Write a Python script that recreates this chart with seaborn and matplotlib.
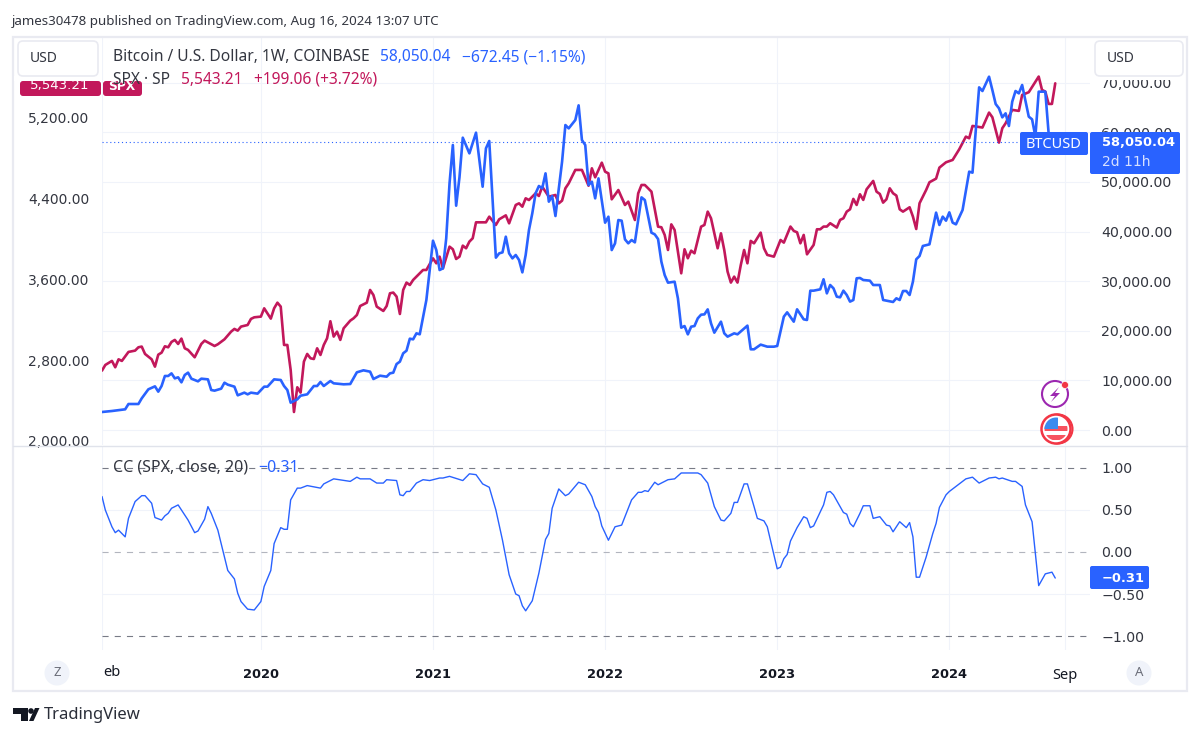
import numpy as np
import pandas as pd
import matplotlib
matplotlib.use('Agg')
import matplotlib.pyplot as plt
from matplotlib.patches import FancyBboxPatch, Rectangle, Circle, Polygon
import seaborn as sns

# weeks are counted from the first bar on the chart (Feb 2019)
btc_weeks = [0, 3, 7, 8, 11, 12, 14, 16, 17, 18, 19, 20, 21, 22, 23, 24, 25, 26, 27, 29, 30, 32, 33, 34, 36, 37, 38, 40, 41, 43, 44, 45, 47, 49, 50, 52, 54, 55, 56, 57, 59, 60, 62, 64, 65, 66, 67, 69, 70, 73, 75, 77, 79, 81, 82, 84, 86, 87, 88, 89, 90, 91, 92, 93, 94, 95, 96,
             98, 100, 101, 102, 103, 104, 105, 106, 107, 108, 109, 111, 113, 115, 116, 117, 119, 120, 121, 122, 123, 124, 125, 126, 127, 128, 129, 130, 131, 132, 133, 134, 135, 136, 137, 139, 140, 141, 143, 144, 145, 146, 147, 148, 149, 150, 152, 153, 154, 155, 156, 157, 158, 159, 160, 161, 163, 164, 166, 167, 168, 169, 170, 171, 173, 174, 175, 176, 177, 178, 179, 180, 181, 182, 183, 184, 185,
             187, 188, 189, 191, 192, 195, 196, 197, 199, 201, 203, 204, 206, 207, 209, 210, 212, 213, 214, 215, 217, 218, 219, 220, 221, 222, 223, 224, 225, 226, 227, 228, 229, 230, 232, 233, 235, 236, 239, 240, 241, 242, 243, 244, 245, 246, 247, 248, 250, 252, 253, 254, 255, 256, 257, 258, 260,
             262, 263, 265, 266, 268, 269, 270, 271, 272, 273, 274, 275, 276, 277, 278, 280, 281, 282, 283, 285, 286, 288]
btc_close = [3630, 3830, 4170, 5240, 5240, 6380, 8200, 8800, 7730, 8870, 10890, 10890, 11420, 10410, 10620, 9610, 11090, 11560, 10350, 9810, 10350, 10210, 8060, 7930, 8330, 9540, 9140, 8740, 6990, 7530, 7190, 7530, 7330, 8740, 8740, 10210, 10080, 8870, 8060, 5510, 6180, 6920, 7190, 8870, 8870, 9680, 8870, 9880, 9410, 9210, 9270, 11630, 12030, 11760, 10280, 10950, 10750, 11420, 11560, 13300, 13780, 15460, 15990, 18410, 18280, 19490, 19290,
             26210, 38160, 36280, 32250, 32590, 38640, 49720, 57450, 45220, 50930, 58930, 55770, 59940, 49050, 56780, 58260, 34740, 35610, 35810, 38970, 35610, 34600, 35280, 34270, 31780, 35280, 40320, 43680, 47710, 49190, 48720, 51740, 46030, 47170, 43140, 54090, 61480, 60810, 62490, 65450, 58460, 57450, 49390, 50060, 46700, 50730, 41790, 43000, 36280, 37630, 42330, 42200, 38430, 37630, 38300, 37830, 46900, 46360, 39780, 39440, 38500, 33930, 31240, 29700, 29900, 26540, 20630, 20960, 19280, 20830, 20960, 22510, 23250, 23310, 24320, 21500, 19620,
             21840, 19490, 18820, 19490, 19290, 21040, 16270, 16270, 17210, 16800, 16800, 16940, 22850, 23720, 21840, 24330, 22310, 22180, 28090, 28090, 28360, 30380, 27550, 29230, 28560, 26880, 26750, 28090, 27220, 25880, 26210, 30580, 30650, 30240, 30110, 29230, 29230, 26210, 25810, 26550, 26210, 28020, 28020, 27220, 29910, 34410, 35080, 37100, 37430, 43820, 41330, 43010, 42200, 43880, 41800, 41460, 44350,
             52080, 51880, 69080, 68340, 71230, 68540, 65720, 64850, 63030, 63840, 61290, 66190, 68340, 67870, 69550, 63170, 62630, 59140, 68210, 68210, 59810, 58050]

spx_weeks = [0, 1, 3, 4, 5, 6, 8, 10, 11, 12, 13, 15, 16, 17, 18, 19, 20, 21, 22, 23, 24, 25, 26, 28, 30, 31, 34, 35, 37, 39, 40, 41, 42, 44, 45, 46, 48, 49, 51, 52, 53, 54, 55, 56, 57, 58, 59, 60, 61, 62, 63, 64, 65, 66, 67, 68, 69, 70, 71, 72, 73, 75, 76, 77, 78, 80, 81, 82, 83, 85, 86, 87, 88, 89, 90, 91, 92, 93, 94,
             96, 97, 98, 100, 101, 102, 103, 105, 106, 107, 108, 109, 110, 111, 112, 113, 116, 117, 119, 120, 122, 123, 125, 126, 127, 128, 129, 131, 132, 133, 135, 137, 138, 139, 140, 141, 143, 145, 147, 148, 149, 151, 152, 153, 154, 156, 158, 159, 161, 162, 163, 164, 166, 168, 169, 170, 171, 172, 173, 175, 176, 177, 178, 179, 181, 182, 183, 184, 186, 187,
             188, 189, 190, 191, 192, 193, 194, 195, 196, 197, 199, 200, 201, 203, 205, 206, 208, 209, 210, 211, 212, 213, 215, 216, 217, 218, 219, 220, 222, 223, 224, 225, 226, 227, 228, 229, 230, 231, 233, 234, 235, 236, 237, 238, 239, 240, 241, 242, 244, 245, 246, 247, 249, 250, 252, 253, 255,
             257, 259, 261, 262, 263, 266, 268, 269, 271, 272, 273, 275, 277, 278, 280, 283, 284, 285, 286, 287, 288]
spx_close = [2697, 2753, 2793, 2730, 2809, 2793, 2882, 2895, 2928, 2935, 2862, 2809, 2736, 2855, 2875, 2938, 2928, 2981, 3001, 2961, 3014, 2918, 2902, 2829, 2961, 2994, 2941, 2958, 3007, 3083, 3110, 3093, 3133, 3149, 3209, 3225, 3232, 3314, 3212, 3314, 3370, 3331, 2951, 2951, 2703, 2287, 2532, 2479, 2786, 2862, 2819, 2812, 2918, 2852, 2951, 3017, 3186, 3034, 3083, 3001, 3116, 3192, 3215, 3248, 3337, 3370, 3496, 3446, 3331, 3288, 3337, 3463, 3470, 3430, 3258, 3496, 3569, 3545, 3595,
             3661, 3694, 3694, 3809, 3760, 3826, 3710, 3925, 3899, 3803, 3826, 3935, 3909, 3975, 4008, 4166, 4166, 4222, 4140, 4196, 4235, 4156, 4338, 4354, 4321, 4404, 4387, 4453, 4427, 4519, 4420, 4437, 4354, 4381, 4503, 4552, 4685, 4685, 4529, 4701, 4612, 4757, 4668, 4651, 4394, 4486, 4338, 4371, 4189, 4453, 4536, 4536, 4470, 4123, 4117, 4041, 3892, 4146, 4090, 3661, 3899, 3810, 3885, 3859, 4123, 4140, 4272, 4206, 3909, 4057,
             3892, 3678, 3569, 3628, 3569, 3744, 3892, 3760, 3982, 3958, 4064, 3909, 3843, 3826, 3991, 3965, 4124, 4081, 4067, 3958, 4041, 3849, 3942, 4097, 4097, 4124, 4124, 4157, 4114, 4190, 4206, 4272, 4295, 4398, 4338, 4444, 4388, 4493, 4576, 4470, 4447, 4361, 4394, 4503, 4454, 4431, 4295, 4272, 4315, 4223, 4100, 4355, 4487, 4563, 4599, 4708, 4761,
             4784, 4890, 5015, 4999, 5121, 5105, 5253, 5207, 4956, 5098, 5147, 5280, 5270, 5428, 5455, 5610, 5478, 5461, 5339, 5339, 5543]

cc_weeks = [0, 1, 3, 4, 5, 7, 8, 10, 12, 13, 15, 16, 18, 19, 20, 21, 23, 24, 26, 28, 29, 31, 32, 33, 35, 38, 40, 41, 42, 44, 46, 48, 49, 51, 52, 54, 55, 56, 57, 59, 60, 62, 66, 67, 70, 75, 77, 78, 81, 83, 85, 86, 89,
            90, 91, 92, 93, 95, 97, 99, 102, 103, 105, 109, 111, 113, 115, 117, 119, 121, 123, 125, 126, 127, 128, 130, 132, 134, 135, 136, 138, 140, 141, 144, 146, 148, 149, 150, 151, 153, 155, 157, 160, 162, 163, 164, 165, 167, 168, 171, 173, 175, 180, 181, 183, 184, 185, 187, 188, 190, 191, 192, 194, 195, 197, 198, 200, 201, 204, 205, 206, 207, 208, 210, 212, 213, 214, 215, 218, 219, 220, 221, 224, 225,
            226, 227, 229, 230, 232, 233, 235, 237, 238, 239, 241, 243, 244, 245, 246, 247, 249, 251, 252, 253, 255, 256, 259, 261, 263, 265, 268, 270, 271, 272, 275, 276, 278, 279, 281, 283, 285, 287, 288]
cc_value = [0.66, 0.50, 0.30, 0.23, 0.26, 0.18, 0.40, 0.60, 0.67, 0.67, 0.58, 0.41, 0.38, 0.43, 0.46, 0.52, 0.56, 0.50, 0.38, 0.23, 0.25, 0.39, 0.54, 0.46, 0.26, -0.22, -0.32, -0.49, -0.59, -0.68, -0.69, -0.59, -0.41, -0.22, 0.10, 0.29, 0.27, 0.27, 0.62, 0.76, 0.76, 0.79, 0.76, 0.81, 0.87, 0.84, 0.89, 0.87, 0.87, 0.82, 0.82, 0.86, 0.85,
            0.68, 0.67, 0.72, 0.72, 0.82, 0.86, 0.85, 0.88, 0.88, 0.90, 0.85, 0.93, 0.92, 0.81, 0.77, 0.50, 0.14, -0.27, -0.50, -0.52, -0.64, -0.70, -0.58, -0.25, 0.15, 0.22, 0.52, 0.75, 0.67, 0.69, 0.83, 0.80, 0.66, 0.54, 0.47, 0.31, 0.14, 0.30, 0.32, 0.62, 0.71, 0.71, 0.73, 0.72, 0.83, 0.80, 0.86, 0.87, 0.94, 0.94, 0.92, 0.82, 0.68, 0.54, 0.38, 0.37, 0.46, 0.59, 0.59, 0.81, 0.81, 0.54, 0.40, 0.37, 0.30, -0.20, -0.18, -0.08, -0.03, 0.13, 0.29, 0.42, 0.40, 0.29, 0.31, 0.56, 0.71, 0.72, 0.68, 0.47, 0.45,
            0.34, 0.30, 0.46, 0.55, 0.55, 0.40, 0.42, 0.32, 0.31, 0.24, 0.36, 0.29, 0.35, 0.18, -0.30, -0.30, -0.06, 0.22, 0.34, 0.53, 0.68, 0.72, 0.81, 0.87, 0.89, 0.82, 0.88, 0.89, 0.87, 0.88, 0.84, 0.84, 0.78, 0.56, 0.36, -0.40, -0.26, -0.24, -0.31]

btc_ticks = [0, 10000, 20000, 30000, 40000, 50000, 60000, 70000]
spx_ticks = [2000, 2800, 3600, 4400, 5200]
cc_ticks = [-1, -0.5, 0, 0.5, 1]
time_ticks = [48, 100, 152, 204, 256, 291]
time_labels = ['2020', '2021', '2022', '2023', '2024', 'Sep']

BLUE = '#2962FF'
RED = '#C2185B'
GRID = '#F0F3FA'
TEXT = '#333640'
NUM_FONT = 'DejaVu Sans'
TXT_FONT = 'Noto Sans'

sns.set_theme(style='white')
plt.rcParams['font.family'] = [TXT_FONT, 'DejaVu Sans']

W, H = 1200, 738
fig = plt.figure(figsize=(W / 100, H / 100), dpi=100, facecolor='white')


def box(left, top, right, bottom):
    return [left / W, 1 - bottom / H, (right - left) / W, (bottom - top) / H]


def money(values):
    return [f'{v:,.2f}'.replace('-', '\u2212') for v in values]


# price pane: grid at the back, then SPX, then BTC on top
ax_grid = fig.add_axes(box(102, 37, 1090, 445))
ax_spx = ax_grid.twinx()
ax_btc = ax_grid.twinx()
ax_cc = fig.add_axes(box(102, 446, 1090, 650))

for ax in [ax_grid, ax_spx, ax_btc, ax_cc]:
    ax.set_xlim(0, 298.5)
    ax.patch.set_visible(False)
    sns.despine(ax=ax, left=True, bottom=True, right=True, top=True)
    ax.set_xlabel('')
    ax.set_ylabel('')

sns.lineplot(x=spx_weeks, y=spx_close, ax=ax_spx, color=RED, linewidth=1.9, estimator=None, errorbar=None)
sns.lineplot(x=btc_weeks, y=btc_close, ax=ax_btc, color=BLUE, linewidth=1.9, estimator=None, errorbar=None)
sns.lineplot(x=cc_weeks, y=cc_value, ax=ax_cc, color=BLUE, linewidth=1.0, estimator=None, errorbar=None)

ax_grid.set_ylim(-3024, 79230)
ax_btc.set_ylim(-3024, 79230)
ax_spx.set_ylim(1960, 6002)
ax_cc.set_ylim(-1.166, 1.261)

# gridlines
ax_grid.set_yticks(btc_ticks)
ax_grid.set_xticks([0] + time_ticks)
ax_grid.grid(True, color=GRID, linewidth=0.8)
ax_grid.tick_params(left=False, bottom=False, labelleft=False, labelbottom=False)
ax_cc.set_xticks(time_ticks)
ax_cc.grid(True, axis='x', color=GRID, linewidth=0.8)
for level in [-0.5, 0.5]:
    ax_cc.axhline(level, color=GRID, linewidth=0.8, zorder=0)
ax_cc.axvline(0, color=GRID, linewidth=0.8, zorder=0)
ax_cc.axhline(1, color='#787B86', linewidth=0.8, linestyle=(0, (5.5, 5.5)), zorder=1)
ax_cc.axhline(-1, color='#787B86', linewidth=0.8, linestyle=(0, (5.5, 5.5)), zorder=1)
ax_cc.axhline(0, color='#B2B5BE', linewidth=0.8, linestyle=(0, (5.5, 5.5)), zorder=1)
ax_btc.axhline(btc_close[-1], color=BLUE, linewidth=0.8, linestyle=(0, (1, 2.5)), zorder=1)

# tick labels
ax_btc.set_yticks(btc_ticks, money(btc_ticks), family=NUM_FONT, fontsize=10.2, color=TEXT)
ax_btc.yaxis.tick_right()
ax_btc.tick_params(axis='y', length=0, pad=8)
ax_btc.tick_params(axis='x', bottom=False, labelbottom=False)

ax_spx.set_yticks(spx_ticks, money(spx_ticks), family=NUM_FONT, fontsize=10, color=TEXT)
ax_spx.yaxis.tick_left()
ax_spx.tick_params(axis='y', length=0, pad=9)
ax_spx.tick_params(axis='x', bottom=False, labelbottom=False)

ax_cc.yaxis.tick_right()
ax_cc.set_yticks(cc_ticks, money(cc_ticks), family=NUM_FONT, fontsize=10.2, color=TEXT)
ax_cc.tick_params(axis='y', length=0, pad=8)
ax_cc.set_xticks(time_ticks, time_labels, fontsize=10.5, color='#131722')
ax_cc.tick_params(axis='x', length=0, pad=13)
for label in ax_cc.get_xticklabels()[:-1]:
    label.set_family(NUM_FONT)
    label.set_fontweight('bold')
    label.set_fontsize(9.4)

# overlay in pixel coordinates for the TradingView furniture
ov = fig.add_axes([0, 0, 1, 1], zorder=10)
ov.set_xlim(0, W)
ov.set_ylim(H, 0)
ov.axis('off')


def label_box(left, top, right, bottom, color, z=3, radius=3):
    ov.add_patch(FancyBboxPatch((left, top), right - left, bottom - top,
                                boxstyle=f'round,pad=0,rounding_size={radius}',
                                facecolor=color, edgecolor='none', zorder=z))


def put(x, y, s, color=TEXT, size=11.2, ha='left', z=6, family=TXT_FONT, weight='normal'):
    ov.text(x, y, s, color=color, fontsize=size, ha=ha, va='center', zorder=z,
            family=family, fontweight=weight)


# frame and separator
ov.add_patch(Rectangle((13, 37), 1174, 654, facecolor='none', edgecolor='#E9EAF1', linewidth=1.6))
ov.plot([13, 1187], [446, 446], color='#E0E3EB', linewidth=1.0)

put(12, 21, 'james30478 published on TradingView.com, Aug 16, 2024 13:07 UTC', size=9.6)

# left price labels, clipped by the USD button
label_box(20, 81, 101, 96, RED)
label_box(103, 81, 142, 96, RED)
put(60, 85, '5,543.21', color='white', size=9.6, ha='center', z=4, family=NUM_FONT)
put(122, 87, 'SPX', color='white', size=8.8, ha='center', z=4, family=NUM_FONT, weight='bold')
ov.add_patch(Rectangle((14, 76), 86, 5, facecolor='white', edgecolor='none', zorder=5))
ov.add_patch(Rectangle((1094, 76), 90, 4, facecolor='white', edgecolor='none', zorder=5))
for left in [18, 1095]:
    ov.add_patch(FancyBboxPatch((left, 41), 80 if left == 18 else 88, 35,
                                boxstyle='round,pad=0,rounding_size=5',
                                facecolor='white', edgecolor='#E9EAF1', linewidth=1.2, zorder=5))
put(30, 58, 'USD', size=10)
put(1107, 58, 'USD', size=10)

# legends
put(113, 57, 'Bitcoin / U.S. Dollar, 1W, COINBASE')
put(380, 57, '58,050.04', color=BLUE)
put(462, 57, '\u2212672.45 (\u22121.15%)', color=BLUE)
put(113, 80, 'SPX \u00b7 SP')
put(181, 80, '5,543.21', color=RED)
put(254, 80, '+199.06 (+3.72%)', color=RED)
put(113, 468, 'CC (SPX, close, 20)', size=11.5)
put(258, 468, '\u22120.31', color=BLUE, size=11.5)
put(103, 673, 'eb', size=10.5, color='#131722')

# last value labels
label_box(1020, 132, 1088, 155, BLUE, radius=2)
put(1054, 144, 'BTCUSD', color='white', size=10.5, ha='center')
label_box(1090, 132, 1180, 174, BLUE, radius=2)
put(1102, 143, '58,050.04', color='white', size=9.4, family=NUM_FONT, weight='bold')
put(1102, 162, '2d 11h', color='#D6E0FF', size=10, family=NUM_FONT)
label_box(1090, 566, 1149, 589, BLUE, radius=2)
put(1102, 578, '\u22120.31', color='white', size=9.4, family=NUM_FONT, weight='bold')

# round Z / A buttons
for cx, s in [(57, 'Z'), (1139, 'A')]:
    ov.add_patch(Circle((cx, 673), 12.5, facecolor='#F0F3FA', edgecolor='none'))
    put(cx, 673, s, color='#6A6D78', size=9.5, ha='center')

# event icons
ov.add_patch(Circle((1055, 394), 13, facecolor='white', edgecolor='#9C27B0', linewidth=1.5, zorder=4))
ov.add_patch(Polygon([(1059, 387), (1050, 396), (1055, 396), (1051, 402), (1060, 393), (1055, 393)],
                     facecolor='#9C27B0', edgecolor='none', zorder=5))
ov.add_patch(Circle((1065, 385), 3.5, facecolor='#F23645', edgecolor='white', linewidth=0.5, zorder=5))
ov.add_patch(Circle((1058, 429), 14.5, facecolor='white', edgecolor='#F23645', linewidth=1.5, zorder=3))
ov.add_patch(Circle((1056, 429), 14.5, facecolor='white', edgecolor='#F23645', linewidth=1.8, zorder=4))
disc = Circle((1056, 429), 11.5, transform=ov.transData)
for rect in [Rectangle((1044, 426), 24, 5, facecolor='#F7525F', edgecolor='none', zorder=5),
             Rectangle((1044, 435), 24, 5, facecolor='#F7525F', edgecolor='none', zorder=5),
             Rectangle((1044, 417), 14, 12, facecolor='#3A8BEF', edgecolor='none', zorder=6)]:
    ov.add_patch(rect)
    rect.set_clip_path(disc)

# TradingView logo
ov.add_patch(Polygon([(13, 708), (28, 708), (28, 721), (21, 721), (21, 714), (13, 714)],
                     facecolor='#131722', edgecolor='none'))
ov.add_patch(Circle((31, 711), 2.8, facecolor='#131722', edgecolor='none'))
ov.add_patch(Polygon([(29, 721), (35, 708), (39.5, 708), (33.5, 721)], facecolor='#131722', edgecolor='none'))
put(44, 715, 'TradingView', color='#2A2E39', size=12)

fig.savefig('out.png', dpi=100)
